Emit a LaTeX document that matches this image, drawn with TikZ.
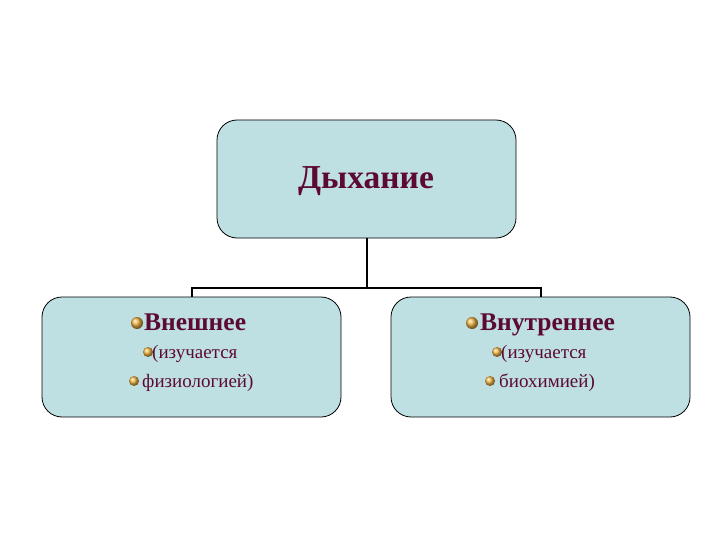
\documentclass[tikz,border=0pt]{standalone}
\usepackage{fontspec}
\setmainfont{Liberation Serif}
\begin{document}
\begin{tikzpicture}[x=1pt,y=-1pt,
  box/.style={draw=black, line width=0.8pt, fill=boxfill, rounded corners=20pt},
  conn/.style={draw=black, line width=1.6pt},
  txt/.style={text=textcol, inner sep=0pt, anchor=base west},
  bul/.style={circle, inner sep=0pt, minimum size=#1, shading=ball, ball color=bulcol}]
\definecolor{boxfill}{HTML}{BEE0E3}
\definecolor{textcol}{HTML}{5C0A33}
\definecolor{bulcol}{HTML}{F2B444}
\useasboundingbox (0,0) rectangle (720,540);
\fill[white] (0,0) rectangle (720,540);
% boxes
\draw[box] (217,120) rectangle (516,238);
\coordinate (topbot) at (367,238);
\draw[box] (42,297) rectangle (341,417);
\coordinate (ltop) at (192,297);
\draw[box] (391,297) rectangle (690,417);
\coordinate (rtop) at (541,297);
\node[text=textcol, font=\fontsize{33.5}{38}\selectfont\bfseries] (title) at (366,181) {Дыхание};
% connectors
\coordinate (junc) at (367,288);
\draw[conn] (topbot) -- (junc);
\draw[conn] (ltop) -- (192,288) -- (541,288) -- (rtop);
% left texts
\node[bul=12pt] (b1) at (137,323) {};
\node[txt, font=\fontsize{25.5}{30}\selectfont\bfseries] (l1) at (144,330.5) {Внешнее};
\node[bul=10pt] (b2) at (148,352) {};
\node[txt, font=\fontsize{19}{22}\selectfont] (l2) at (152,358.5) {(изучается};
\node[bul=10pt] (b3) at (134,381) {};
\node[txt, font=\fontsize{19}{22}\selectfont] (l3) at (142,387.5) {физиологией)};
% right texts
\node[bul=12pt] (b4) at (472,323) {};
\node[txt, font=\fontsize{25.5}{30}\selectfont\bfseries] (r1) at (480,330.5) {Внутреннее};
\node[bul=10pt] (b5) at (497,352) {};
\node[txt, font=\fontsize{19}{22}\selectfont] (r2) at (501,358.5) {(изучается};
\node[bul=10pt] (b6) at (490,381) {};
\node[txt, font=\fontsize{19}{22}\selectfont] (r3) at (499,387.5) {биохимией)};
\end{tikzpicture}
\end{document}
